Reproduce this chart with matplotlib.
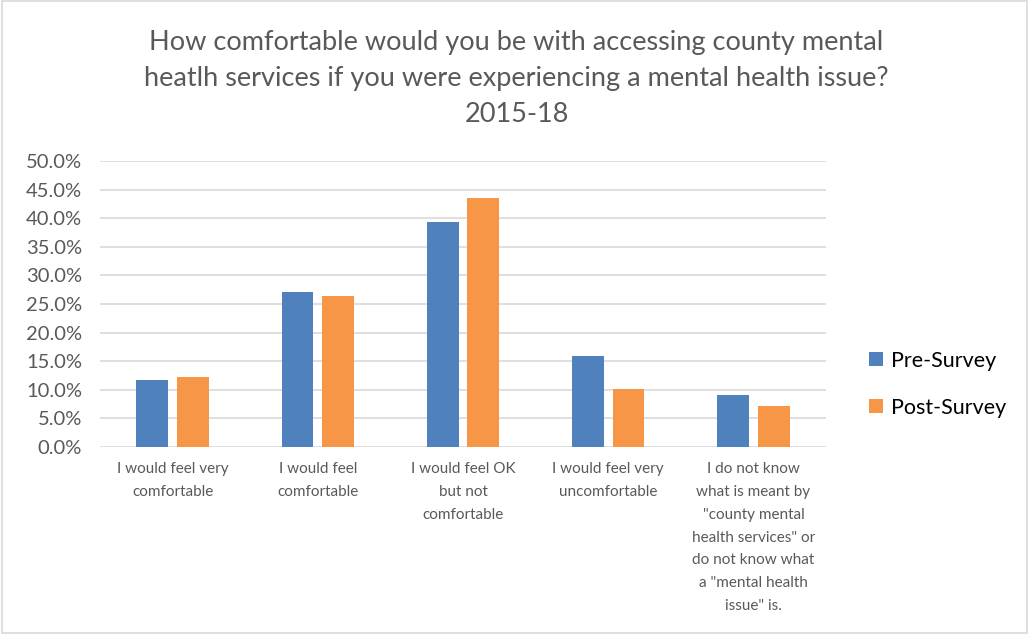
import matplotlib
matplotlib.use("Agg")
import matplotlib.pyplot as plt
import numpy as np
from matplotlib.patches import Rectangle
from matplotlib.ticker import PercentFormatter

title = ("How comfortable would you be with accessing county mental\n"
         "heatlh services if you were experiencing a mental health issue?\n"
         "2015-18")
categories = [
    "I would feel very\ncomfortable",
    "I would feel\ncomfortable",
    "I would feel OK\nbut not\ncomfortable",
    "I would feel very\nuncomfortable",
    "I do not know\nwhat is meant by\n\"county mental\nhealth services\" or\ndo not know what\na \"mental health\nissue\" is.",
]
series_names = ["Pre-Survey", "Post-Survey"]
pre_survey = [11.7, 27.1, 39.4, 15.9, 9.1]
post_survey = [12.3, 26.4, 43.6, 10.1, 7.1]
yticks = [0, 5, 10, 15, 20, 25, 30, 35, 40, 45, 50]

colors = ["#4F81BD", "#F79646"]
text_color = "#595959"
plt.rcParams['font.family'] = ['Lato', 'DejaVu Sans']

fig = plt.figure(figsize=(10.29, 6.34), dpi=100)
ax = fig.add_axes([0.0972, 0.295, 0.7055, 0.451])

x = np.arange(len(categories))
w = 0.22
off = 0.14
ax.bar(x - off, pre_survey, w, color=colors[0], label=series_names[0], zorder=3)
ax.bar(x + off, post_survey, w, color=colors[1], label=series_names[1], zorder=3)

ax.set_xlim(-0.5, len(categories) - 0.5)
ax.set_ylim(0, 50)
ax.set_yticks(yticks)
ax.yaxis.set_major_formatter(PercentFormatter(decimals=1))
ax.grid(axis='y', color="#D9D9D9", linewidth=1.2, zorder=0)
for s in ax.spines.values():
    s.set_visible(False)
ax.tick_params(axis='y', length=0, labelsize=14.5, labelcolor=text_color, pad=13)
ax.tick_params(axis='x', length=0, labelsize=11, labelcolor=text_color, pad=11)
ax.set_xticks(x)
ax.set_xticklabels(categories, linespacing=1.8)

fig.text(0.502, 0.952, title, ha='center', va='top', fontsize=19.5,
         color=text_color, linespacing=1.55)

handles, labels = ax.get_legend_handles_labels()
fig.legend(handles, labels, loc='center left', bbox_to_anchor=(0.826, 0.394),
           frameon=False, fontsize=15.5, handlelength=0.65, handleheight=0.65,
           labelspacing=1.25, handletextpad=0.35, labelcolor='black')

fig.patches.append(Rectangle((0.002, 0.002), 0.996, 0.996, transform=fig.transFigure,
                             fill=False, edgecolor="#D9D9D9", linewidth=1.2))

fig.savefig("out.png", dpi=100)
